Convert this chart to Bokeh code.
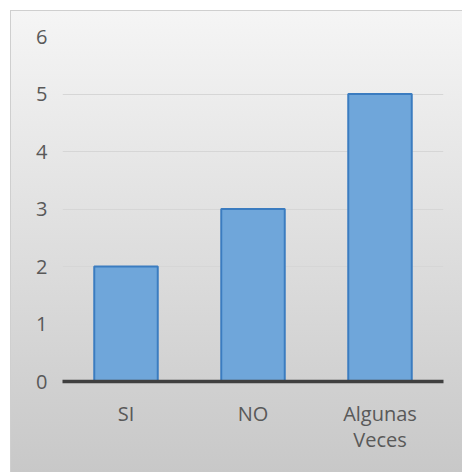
from bokeh.plotting import figure
from bokeh.models import Range1d, ColumnDataSource, CategoricalAxis, CustomJSTickFormatter
from bokeh.embed import file_html
from bokeh.resources import INLINE

# Survey answers and their counts
categories = ["SI", "NO", "Algunas Veces"]
counts = [2, 3, 5]
y_ticks = [0, 1, 2, 3, 4, 5, 6]

FONT = "Open Sans"
TEXT_COLOR = "#595959"
FONT_SIZE = "20px"

source = ColumnDataSource(data=dict(cat=categories, count=counts))

p = figure(
    x_range=categories,
    y_range=Range1d(0, 6),
    width=462,
    height=472,
    output_backend="svg",
    toolbar_location=None,
    min_border_left=62,
    min_border_right=19,
    min_border_top=36,
    min_border_bottom=91,
)

# Page-like card: white margin, thin grey edge, soft vertical gradient
p.border_fill_color = None
p.background_fill_color = None
p.outline_line_color = None
p.styles = {
    "background-color": "#ffffff",
    "background-image": "linear-gradient(to bottom, #f5f5f5, #c8c8c8), linear-gradient(#cfcfcf, #cfcfcf)",
    "background-position": "11px 11px, 10px 10px",
    "background-size": "calc(100% - 11px) calc(100% - 11px), calc(100% - 10px) calc(100% - 10px)",
    "background-repeat": "no-repeat",
}

p.vbar(
    x="cat", top="count", bottom=0, width=0.5, source=source,
    fill_color="#6fa6da", line_color="#3b7cc0", line_width=2,
)

p.x_range.range_padding = 0

# Horizontal gridlines only
p.xgrid.grid_line_color = None
p.ygrid.grid_line_color = "#d6d6d6"
p.ygrid.grid_line_width = 1

# Value axis: labels only
p.yaxis.ticker = y_ticks
p.yaxis.axis_line_color = None
p.yaxis.major_tick_line_color = None
p.yaxis.minor_tick_line_color = None
p.yaxis.major_label_standoff = 9
p.yaxis.major_label_text_font = FONT
p.yaxis.major_label_text_font_size = FONT_SIZE
p.yaxis.major_label_text_color = TEXT_COLOR

# Category names wrap one word per line: the first word on the main axis,
# any following words on a second, line-less axis just beneath it.
first_words = {c: c.split(" ")[0] for c in categories}
rest_words = {c: " ".join(c.split(" ")[1:]) for c in categories}


def style_category_axis(axis, standoff, words):
    axis.major_tick_line_color = None
    axis.minor_tick_line_color = None
    axis.major_label_standoff = standoff
    axis.major_label_text_font = FONT
    axis.major_label_text_font_size = FONT_SIZE
    axis.major_label_text_color = TEXT_COLOR
    axis.formatter = CustomJSTickFormatter(args=dict(words=words), code="return words[tick]")


xaxis = p.xaxis[0]
xaxis.axis_line_color = "#404040"
xaxis.axis_line_width = 3.5
style_category_axis(xaxis, 12, first_words)

second = CategoricalAxis()
second.axis_line_color = None
style_category_axis(second, -10, rest_words)
p.add_layout(second, "below")

open("out.html", "w").write(file_html(p, INLINE))
